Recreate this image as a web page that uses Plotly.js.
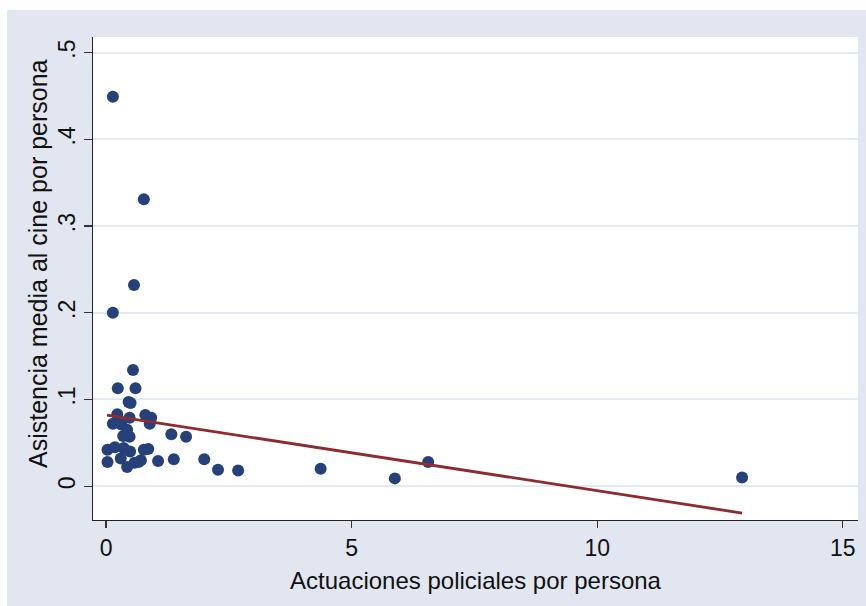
<!DOCTYPE html>
<html>
<head>
<meta charset="utf-8">
<script src="https://cdn.plot.ly/plotly-3.0.1.min.js"></script>
<style>
html,body{margin:0;padding:0;background:#ffffff;}
#chart{position:absolute;left:7px;top:10px;width:859px;height:596px;}
</style>
</head>
<body>
<div id="chart"></div>
<script>
// Actuaciones policiales por persona (x) vs Asistencia media al cine por persona (y)
const policeActions = [0.14, 0.77, 0.57, 0.14, 0.55, 0.24, 0.60, 0.46, 0.50, 0.23,
  0.48, 0.80, 0.92, 0.89, 0.14, 0.31, 0.43, 0.35, 0.48, 1.33,
  1.63, 0.03, 0.18, 0.36, 0.49, 0.77, 0.86, 0.03, 0.30, 0.43,
  0.58, 0.71, 1.06, 1.38, 2.00, 2.28, 2.69, 4.37, 5.88, 6.56,
  12.95, 0.66];
const cinemaAttendance = [0.449, 0.331, 0.232, 0.200, 0.134, 0.113, 0.113, 0.097, 0.096, 0.083,
  0.079, 0.082, 0.079, 0.072, 0.072, 0.071, 0.065, 0.058, 0.057, 0.060,
  0.057, 0.042, 0.045, 0.044, 0.040, 0.042, 0.043, 0.028, 0.032, 0.022,
  0.027, 0.030, 0.029, 0.031, 0.031, 0.019, 0.018, 0.020, 0.009, 0.028,
  0.010, 0.028];
const fitX = [0.02, 12.95];
const fitY = [0.082, -0.031];
const xTicks = [0, 5, 10, 15];
const yTicks = [0, 0.1, 0.2, 0.3, 0.4, 0.5];
const yTickText = ["0", ".1", ".2", ".3", ".4", ".5"];
const xTitle = 'Actuaciones policiales por persona';
const yTitle = 'Asistencia media al cine por persona';

const traces = [
  {x: policeActions, y: cinemaAttendance, type: 'scatter', mode: 'markers',
   marker: {color: '#26407a', size: 12}, hoverinfo: 'none'},
  {x: fitX, y: fitY, type: 'scatter', mode: 'lines',
   line: {color: '#8e2b31', width: 2.8}, hoverinfo: 'none'}
];
const font = {family: 'Liberation Sans, Arial, sans-serif', color: '#111111'};
const layout = {
  width: 859, height: 596,
  paper_bgcolor: '#e1e6f0', plot_bgcolor: '#ffffff',
  margin: {l: 86, r: 8, t: 27, b: 86},
  showlegend: false,
  font: font,
  xaxis: {range: [-0.265, 15.31], tickvals: xTicks, ticktext: xTicks.map(String),
    showgrid: false, zeroline: false, showline: true, linecolor: '#222222', linewidth: 1.2,
    ticks: 'outside', ticklen: 7, tickcolor: '#333333', tickwidth: 1.2,
    tickfont: {size: 23, family: font.family, color: '#111111'},
    title: {text: xTitle, font: {size: 24, family: font.family, color: '#111111'}, standoff: 12}},
  yaxis: {range: [-0.039, 0.518], tickvals: yTicks, ticktext: yTickText,
    showgrid: true, gridcolor: '#e3e8f1', gridwidth: 2, zeroline: false,
    showline: true, linecolor: '#222222', linewidth: 1.2,
    ticks: 'outside', ticklen: 8, tickcolor: '#333333', tickwidth: 1.2, tickangle: -90,
    tickfont: {size: 23, family: font.family, color: '#111111'}},
  annotations: [{text: yTitle, xref: 'paper', yref: 'paper', x: -0.0719, y: 0.532,
    xanchor: 'center', yanchor: 'middle', textangle: -90, showarrow: false,
    font: {size: 25, family: font.family, color: '#111111'}}]
};
Plotly.newPlot('chart', traces, layout, {staticPlot: true, displayModeBar: false});
</script>
</body>
</html>
